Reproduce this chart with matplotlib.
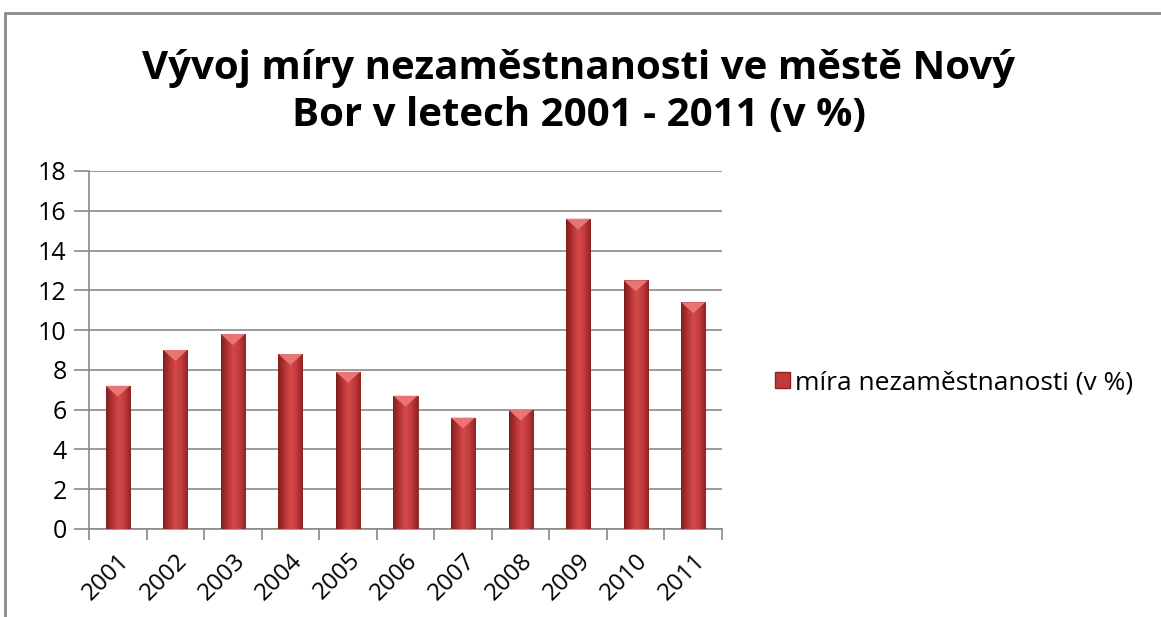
import matplotlib
matplotlib.use("Agg")
import matplotlib.pyplot as plt
import numpy as np
from matplotlib.colors import LinearSegmentedColormap
from matplotlib.patches import Rectangle

years = ["2001", "2002", "2003", "2004", "2005", "2006", "2007", "2008", "2009", "2010", "2011"]
values = [7.2, 9.0, 9.8, 8.8, 7.9, 6.7, 5.6, 6.0, 15.6, 12.5, 11.4]
series_name = "míra nezaměstnanosti (v %)"
title = "Vývoj míry nezaměstnanosti ve městě Nový\nBor v letech 2001 - 2011 (v %)"

plt.rcParams['font.family'] = ['Open Sans', 'DejaVu Sans']

fig = plt.figure(figsize=(11.61, 6.17), dpi=100)
# outer chart border (clipped at right/bottom)
fig.add_artist(Rectangle((4.5/1161, -0.05), 1.1, 1 - 12.5/617 + 0.05, transform=fig.transFigure,
                         fill=False, edgecolor='#8a8a8a', linewidth=2))

ax = fig.add_axes([89/1161, 1 - 529/617, (722-89)/1161, (529-171)/617])
x = np.arange(len(years))
bars = ax.bar(x, values, width=0.42, color='#c0393b', edgecolor='#8a2222', linewidth=0.6, zorder=3)

cmap = LinearSegmentedColormap.from_list('cyl', ['#7e1e1e', '#b53234', '#d44a4a', '#c33a3b', '#8e2424'])
grad = np.linspace(0, 1, 64).reshape(1, -1)
for b in bars:
    x0, y0 = b.get_x(), b.get_y()
    w, h = b.get_width(), b.get_height()
    im = ax.imshow(grad, cmap=cmap, aspect='auto', extent=(x0, x0 + w, y0, y0 + h), zorder=3.5)
    im.set_clip_path(b)
    # top highlight triangle
    tri = plt.Polygon([[x0, y0 + h], [x0 + w, y0 + h], [x0 + w / 2, y0 + h - 0.55]],
                      closed=True, facecolor='#e87474', edgecolor='none', zorder=4)
    ax.add_patch(tri)

ax.set_xlim(-0.5, len(years) - 0.5)
ax.set_ylim(0, 18)
ax.set_yticks(np.arange(0, 19, 2))
ax.set_xticks(x)
ax.set_xticklabels(years, rotation=45, ha='right', rotation_mode='anchor', fontsize=17.5)
ax.set_xticks(np.arange(-0.5, len(years), 1), minor=True)
ax.tick_params(axis='x', which='major', length=0, pad=14)
ax.tick_params(axis='x', which='minor', length=8, color='#8a8a8a', direction='out', width=1.2)
ax.tick_params(axis='y', length=11, color='#8a8a8a', labelsize=18, pad=5, width=1.2)
ax.yaxis.grid(True, color='#8a8a8a', linewidth=1.2, zorder=0)
ax.set_axisbelow(True)
for s in ['top', 'right']:
    ax.spines[s].set_visible(False)
for s in ['left', 'bottom']:
    ax.spines[s].set_color('#8a8a8a')
    ax.spines[s].set_linewidth(1.2)

fig.text(579/1161, 1 - 92/617, title, ha='center', va='center', fontsize=29, fontweight='bold',
         linespacing=1.3)

handle = Rectangle((0, 0), 1, 1, facecolor='#c0393b', edgecolor='#8a2222')
fig.legend([handle], [series_name], loc='center left', bbox_to_anchor=(775/1161, 1 - 383/617),
           frameon=False, fontsize=19, handlelength=0.55, handleheight=0.55, handletextpad=0.2,
           borderpad=0, borderaxespad=0)

fig.savefig('out.png', dpi=100)
